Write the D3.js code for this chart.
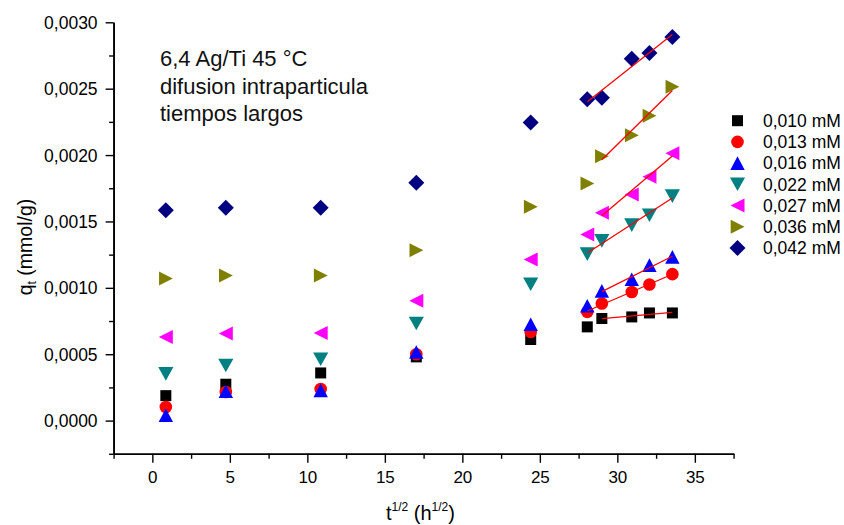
<!DOCTYPE html>
<html>
<head>
<meta charset="utf-8">
<script src="https://cdn.jsdelivr.net/npm/d3@7"></script>
<style>
  html, body { margin: 0; padding: 0; background: #fff; }
  svg { display: block; font-family: "Liberation Sans", Arial, sans-serif; }
</style>
</head>
<body>
<svg id="chart" width="844" height="525"></svg>
<script>
// ---- data ----
const tValues = [0.87, 4.74, 10.86, 17.03, 24.41, 28.06, 29.0, 30.93, 32.07, 33.55];

const seriesNames = ["0,010 mM", "0,013 mM", "0,016 mM", "0,022 mM", "0,027 mM", "0,036 mM", "0,042 mM"];
const seriesColors = ["#000000", "#ff0000", "#0000ff", "#008080", "#ff00ff", "#808000", "#000080"];
const seriesSymbols = ["square", "circle", "triUp", "triDown", "triLeft", "triRight", "diamond"];

const q010 = [0.000188, 0.000274, 0.000359, 0.000480, 0.000611, 0.000706, 0.000769, 0.000781, 0.000811, 0.000811];
const q013 = [0.000103, 0.000216, 0.000238, 0.000500, 0.000668, 0.000819, 0.000882, 0.000969, 0.001025, 0.001103];
const q016 = [0.000040, 0.000221, 0.000228, 0.000517, 0.000726, 0.000865, 0.000977, 0.001065, 0.001171, 0.001233];
const q022 = [0.000352, 0.000415, 0.000462, 0.000731, 0.001027, 0.001254, 0.001354, 0.001472, 0.001547, 0.001691];
const q027 = [0.000630, 0.000656, 0.000660, 0.000902, 0.001214, 0.001402, 0.001565, 0.001703, 0.001836, 0.002013];
const q036 = [0.001070, 0.001093, 0.001093, 0.001284, 0.001610, 0.001786, 0.001992, 0.002150, 0.002296, 0.002515];
const q042 = [0.001585, 0.001603, 0.001603, 0.001791, 0.002246, 0.002420, 0.002432, 0.002726, 0.002769, 0.002889];
const seriesValues = [q010, q013, q016, q022, q027, q036, q042];

// index of first point used in each linear fit (fit runs to the last point)
const fitStart = [6, 5, 6, 5, 6, 6, 5];

const xTicks = [0, 5, 10, 15, 20, 25, 30, 35];
const xTickLabels = ["0", "5", "10", "15", "20", "25", "30", "35"];
const yTicks = [0, 0.0005, 0.0010, 0.0015, 0.0020, 0.0025, 0.0030];
const yTickLabels = ["0,0000", "0,0005", "0,0010", "0,0015", "0,0020", "0,0025", "0,0030"];

const annotationLines = ["6,4 Ag/Ti 45 °C", "difusion intraparticula", "tiempos largos"];

// ---- chart ----
const svg = d3.select("#chart");
const x = d3.scaleLinear().domain([-2.5, 37.5]).range([113.6, 733.6]);
const y = d3.scaleLinear().domain([-0.00025, 0.0030]).range([453.8, 22.3]);

function symbolPath(type) {
  switch (type) {
    case "square": return "M-5.5,-5.5H5.5V5.5H-5.5Z";
    case "circle": return d3.symbol(d3.symbolCircle, Math.PI * 6.3 * 6.3)();
    case "triUp": return "M0,-6.8L7.2,6.8L-7.2,6.8Z";
    case "triDown": return "M0,6.8L7.6,-6.8L-7.6,-6.8Z";
    case "triLeft": return "M-7,0L7,-7L7,7Z";
    case "triRight": return "M7,0L-6.8,-7L-6.8,7Z";
    case "diamond": return "M0,-8L8,0L0,8L-8,0Z";
  }
}

// axes
const axisG = svg.append("g");
const xAxis = d3.axisBottom(x).tickValues(xTicks).tickFormat((d, i) => xTickLabels[i]).tickSize(9).tickSizeOuter(0);
const xMinor = d3.axisBottom(x).tickValues(d3.range(-2.5, 38, 5)).tickFormat("").tickSize(5).tickSizeOuter(0);
const yAxis = d3.axisLeft(y).tickValues(yTicks).tickFormat((d, i) => yTickLabels[i]).tickSize(8).tickSizeOuter(0);
const yMinor = d3.axisLeft(y).tickValues(d3.range(-0.00025, 0.0030, 0.0005)).tickFormat("").tickSize(4.5).tickSizeOuter(0);

const gxMinor = axisG.append("g").attr("transform", `translate(0,${y(-0.00025)})`).call(xMinor);
const gx = axisG.append("g").attr("transform", `translate(0,${y(-0.00025)})`).call(xAxis);
const gyMinor = axisG.append("g").attr("transform", `translate(${x(-2.5)},0)`).call(yMinor);
const gy = axisG.append("g").attr("transform", `translate(${x(-2.5)},0)`).call(yAxis);

[gx, gy, gxMinor, gyMinor].forEach(g => {
  g.selectAll("path.domain").attr("stroke", "#000").attr("stroke-width", 1.6);
  g.selectAll(".tick line").attr("stroke", "#000").attr("stroke-width", 1.4);
});
gx.selectAll(".tick text").attr("font-size", 17).attr("fill", "#000").attr("dy", null).attr("y", 29)
  .attr("font-family", '"Liberation Sans", Arial, sans-serif');
gy.selectAll(".tick text").attr("font-size", 17.5).attr("fill", "#000").attr("x", -16).attr("dy", "0.35em")
  .attr("font-family", '"Liberation Sans", Arial, sans-serif');

// axis titles
const xt = svg.append("text").attr("x", 386).attr("y", 520).attr("font-size", 20).attr("fill", "#000");
xt.append("tspan").text("t");
xt.append("tspan").attr("font-size", 12).attr("dy", -9).text("1/2");
xt.append("tspan").attr("dy", 9).text(" (h");
xt.append("tspan").attr("font-size", 12).attr("dy", -9).text("1/2");
xt.append("tspan").attr("dy", 9).text(")");

const yt = svg.append("text").attr("transform", "translate(32,247) rotate(-90)")
  .attr("text-anchor", "middle").attr("font-size", 19.5).attr("fill", "#000");
yt.append("tspan").text("q");
yt.append("tspan").attr("font-size", 12).attr("dy", 4).text("t");
yt.append("tspan").attr("dy", -4).text(" (mmol/g)");

// annotation
svg.append("g").selectAll("text").data(annotationLines).join("text")
  .attr("x", 160).attr("y", (d, i) => 66 + i * 27.5)
  .attr("font-size", 22).attr("fill", "#111").text(d => d);

// points
const pts = svg.append("g");
seriesValues.forEach((vals, si) => {
  pts.append("g").selectAll("path").data(vals).join("path")
    .attr("d", symbolPath(seriesSymbols[si]))
    .attr("transform", (d, i) => `translate(${x(tValues[i])},${y(d)})`)
    .attr("fill", seriesColors[si]);
});

// linear fits (least squares over the long-time points)
const fits = svg.append("g");
seriesValues.forEach((vals, si) => {
  const xs = tValues.slice(fitStart[si]);
  const ys = vals.slice(fitStart[si]);
  const mx = d3.mean(xs), my = d3.mean(ys);
  const sxy = d3.sum(xs, (v, i) => (v - mx) * (ys[i] - my));
  const sxx = d3.sum(xs, v => (v - mx) * (v - mx));
  const b = sxy / sxx, a = my - b * mx;
  const x0 = xs[0], x1 = xs[xs.length - 1];
  fits.append("line")
    .attr("x1", x(x0)).attr("y1", y(a + b * x0))
    .attr("x2", x(x1)).attr("y2", y(a + b * x1))
    .attr("stroke", "#ff0000").attr("stroke-width", 1.3);
});

// legend
const legend = svg.append("g");
const legRows = legend.selectAll("g").data(seriesNames).join("g")
  .attr("transform", (d, i) => `translate(737.5,${120.7 + i * 21.2})`);
legRows.append("path").attr("d", (d, i) => symbolPath(seriesSymbols[i]))
  .attr("fill", (d, i) => seriesColors[i]);
legRows.append("text").attr("x", 25.5).attr("y", 6.3).attr("font-size", 17.5).attr("fill", "#000").text(d => d);
</script>
</body>
</html>
